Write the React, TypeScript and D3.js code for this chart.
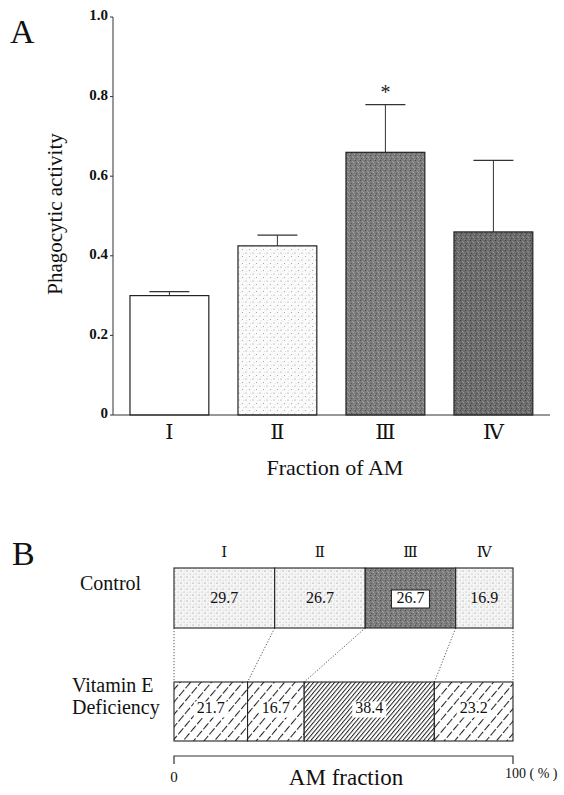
import React from "react";
import * as d3 from "d3";

const fractions = ["Ⅰ", "Ⅱ", "Ⅲ", "Ⅳ"];
const activity = [0.30, 0.425, 0.66, 0.46];
const activityErr = [0.01, 0.027, 0.12, 0.18];
const significant = [false, false, true, false];
const yTicks = [0, 0.2, 0.4, 0.6, 0.8, 1.0];
const yTickLabels = ["0", "0.2", "0.4", "0.6", "0.8", "1.0"];
const controlPct = [29.7, 26.7, 26.7, 16.9];
const vitEPct = [21.7, 16.7, 38.4, 23.2];

const SERIF = "Liberation Serif, DejaVu Serif, serif";

export default function App() {
  const y = d3.scaleLinear().domain([0, 1]).range([415, 17]);
  const x = d3
    .scaleBand<string>()
    .domain(fractions)
    .range([115.4, 547.4])
    .paddingInner(0.27)
    .paddingOuter(0.135);
  const bw = x.bandwidth();
  const barFills = ["#ffffff", "url(#stippleLight)", "url(#darkNoise)", "url(#darkerNoise)"];

  const px = d3.scaleLinear().domain([0, 100]).range([174, 513]);
  const ctrlTop = 568, ctrlBot = 628;
  const vitTop = 682, vitBot = 741;
  const ctrlStarts = [0, ...Array.from(d3.cumsum(controlPct))];
  const vitStarts = [0, ...Array.from(d3.cumsum(vitEPct))];
  const ctrlFills = ["url(#stipple)", "url(#stipple)", "url(#darkNoise)", "url(#stipple)"];
  const vitFills = ["url(#hatchWide)", "url(#hatchWide)", "url(#hatchDense)", "url(#hatchWide)"];

  const T = { fontFamily: SERIF } as React.CSSProperties;

  return (
    <svg
      width={564}
      height={795}
      style={{ position: "absolute", left: 0, top: 0, background: "#fff", fontFamily: SERIF }}
    >
      <defs>
        <pattern id="stippleLight" width="7" height="7" patternUnits="userSpaceOnUse">
          <rect width="7" height="7" fill="#fbfbfb" />
          <circle cx="1" cy="1" r="0.6" fill="#888" />
          <circle cx="4.5" cy="4.5" r="0.55" fill="#999" />
          <circle cx="5.5" cy="1.5" r="0.4" fill="#bbb" />
          <circle cx="2" cy="5.5" r="0.4" fill="#bbb" />
        </pattern>
        <pattern id="stipple" width="6" height="6" patternUnits="userSpaceOnUse">
          <rect width="6" height="6" fill="#f5f5f5" />
          <circle cx="1" cy="1" r="0.55" fill="#777" />
          <circle cx="4" cy="4" r="0.5" fill="#999" />
          <circle cx="4.5" cy="1" r="0.4" fill="#bbb" />
          <circle cx="1.5" cy="4.5" r="0.4" fill="#bbb" />
        </pattern>
        <pattern id="darkNoise" width="5" height="5" patternUnits="userSpaceOnUse">
          <rect width="5" height="5" fill="#7c7c7c" />
          <rect x="0" y="0" width="1" height="1" fill="#4a4a4a" />
          <rect x="3" y="2" width="1" height="1" fill="#a8a8a8" />
          <rect x="1" y="3" width="1" height="1" fill="#5a5a5a" />
          <rect x="4" y="4" width="1" height="1" fill="#999" />
          <rect x="2" y="1" width="1" height="1" fill="#9a9a9a" />
        </pattern>
        <pattern id="darkerNoise" width="5" height="5" patternUnits="userSpaceOnUse">
          <rect width="5" height="5" fill="#6c6c6c" />
          <rect x="0" y="0" width="1" height="1" fill="#3e3e3e" />
          <rect x="3" y="2" width="1" height="1" fill="#999" />
          <rect x="1" y="3" width="1" height="1" fill="#4a4a4a" />
          <rect x="4" y="4" width="1" height="1" fill="#8a8a8a" />
          <rect x="2" y="1" width="1" height="1" fill="#8c8c8c" />
        </pattern>
        <pattern
          id="hatchWide"
          width="8"
          height="10"
          patternUnits="userSpaceOnUse"
          patternTransform="rotate(40)"
        >
          <rect width="8" height="10" fill="#fff" />
          <line x1="0.5" y1="0" x2="0.5" y2="10" stroke="#222" strokeWidth="1.1" strokeDasharray="8,2" />
        </pattern>
        <pattern
          id="hatchDense"
          width="3.2"
          height="8"
          patternUnits="userSpaceOnUse"
          patternTransform="rotate(40)"
        >
          <rect width="3.2" height="8" fill="#fff" />
          <line x1="0.5" y1="0" x2="0.5" y2="8" stroke="#222" strokeWidth="1" />
        </pattern>
      </defs>

      {/* ---------- Panel A ---------- */}
      <text x={10} y={43} fontSize={34} fill="#111" style={T}>A</text>

      <line x1={113} x2={113} y1={y(1)} y2={y(0)} stroke="#333" strokeWidth={1} />
      {yTicks.map((t, i) => (
        <g key={`yt${i}`}>
          <line x1={110} x2={113} y1={y(t)} y2={y(t)} stroke="#333" strokeWidth={1} />
          <text
            x={108}
            y={y(t)}
            textAnchor="end"
            dominantBaseline="middle"
            fontSize={15}
            fontWeight="bold"
            fill="#111"
            style={T}
          >
            {yTickLabels[i]}
          </text>
        </g>
      ))}
      <text
        transform={`translate(57,214) rotate(-90)`}
        textAnchor="middle"
        dominantBaseline="middle"
        fontSize={21}
        fill="#111"
        style={T}
      >
        Phagocytic activity
      </text>

      {fractions.map((f, i) => {
        const x0 = x(f)!;
        const cx = x0 + bw / 2;
        const top = y(activity[i]);
        const errTop = y(activity[i] + activityErr[i]);
        return (
          <g key={`bar${i}`}>
            <line x1={cx} x2={cx} y1={top} y2={errTop} stroke="#333" strokeWidth={1} />
            <line x1={cx - 20} x2={cx + 20} y1={errTop} y2={errTop} stroke="#333" strokeWidth={1.2} />
            <rect
              x={x0}
              y={top}
              width={bw}
              height={y(0) - top}
              fill={barFills[i]}
              stroke="#222"
              strokeWidth={1.2}
            />
            {significant[i] && (
              <text x={cx} y={errTop - 6} textAnchor="middle" fontSize={20} fill="#222" style={T}>
                *
              </text>
            )}
            <text
              x={cx}
              y={434}
              textAnchor="middle"
              dominantBaseline="middle"
              fontSize={21}
              fill="#111"
              style={T}
            >
              {f}
            </text>
          </g>
        );
      })}

      <line x1={113} x2={550} y1={y(0)} y2={y(0)} stroke="#333" strokeWidth={1} />
      <text x={335} y={475} textAnchor="middle" fontSize={22} fill="#111" style={T}>
        Fraction of AM
      </text>

      {/* ---------- Panel B ---------- */}
      <text x={12} y={565} fontSize={34} fill="#111" style={T}>B</text>

      <text x={80} y={590} fontSize={20} fill="#111" style={T}>Control</text>
      <text x={72} y={692} fontSize={20} fill="#111" style={T}>Vitamin E</text>
      <text x={72} y={714} fontSize={20} fill="#111" style={T}>Deficiency</text>

      {fractions.map((f, i) => (
        <text
          key={`hdr${i}`}
          x={px(ctrlStarts[i] + controlPct[i] / 2)}
          y={554}
          textAnchor="middle"
          dominantBaseline="middle"
          fontSize={15}
          fill="#111"
          style={T}
        >
          {f}
        </text>
      ))}

      {ctrlStarts.map((s, i) => (
        <line
          key={`conn${i}`}
          x1={px(s)}
          x2={px(vitStarts[i])}
          y1={ctrlBot}
          y2={vitTop}
          stroke="#444"
          strokeWidth={0.9}
          strokeDasharray="1.2,1.8"
        />
      ))}

      {controlPct.map((v, i) => {
        const x0 = px(ctrlStarts[i]);
        const x1 = px(ctrlStarts[i] + v);
        const cx = (x0 + x1) / 2;
        const cy = (ctrlTop + ctrlBot) / 2 + 1;
        return (
          <g key={`ctrl${i}`}>
            <rect
              x={x0}
              y={ctrlTop}
              width={x1 - x0}
              height={ctrlBot - ctrlTop}
              fill={ctrlFills[i]}
              stroke="#222"
              strokeWidth={1.1}
            />
            {i === 2 && (
              <rect x={cx - 19} y={cy - 9} width={38} height={18} fill="#fff" stroke="#222" strokeWidth={1} />
            )}
            <text
              x={cx}
              y={cy}
              textAnchor="middle"
              dominantBaseline="middle"
              fontSize={16}
              fill="#111"
              style={T}
            >
              {v.toFixed(1)}
            </text>
          </g>
        );
      })}

      {vitEPct.map((v, i) => {
        const x0 = px(vitStarts[i]);
        const x1 = px(vitStarts[i] + v);
        const cx = (x0 + x1) / 2;
        const cy = (vitTop + vitBot) / 2 - 2;
        return (
          <g key={`vit${i}`}>
            <rect
              x={x0}
              y={vitTop}
              width={x1 - x0}
              height={vitBot - vitTop}
              fill={vitFills[i]}
              stroke="#222"
              strokeWidth={1.1}
            />
            <rect x={cx - 17} y={cy - 8} width={34} height={16} fill="#fff" />
            <text
              x={cx}
              y={cy}
              textAnchor="middle"
              dominantBaseline="middle"
              fontSize={16}
              fill="#111"
              style={T}
            >
              {v.toFixed(1)}
            </text>
          </g>
        );
      })}

      <path
        d={`M${px(0)},${764} V${756} H${px(100)} V${764}`}
        fill="none"
        stroke="#333"
        strokeWidth={1.2}
      />
      <text x={px(0)} y={782} textAnchor="middle" fontSize={15} fill="#111" style={T}>0</text>
      <text x={346} y={785} textAnchor="middle" fontSize={23} fill="#111" style={T}>AM fraction</text>
      <text x={505} y={778} fontSize={14} fill="#111" style={T}>100 ( % )</text>
    </svg>
  );
}
